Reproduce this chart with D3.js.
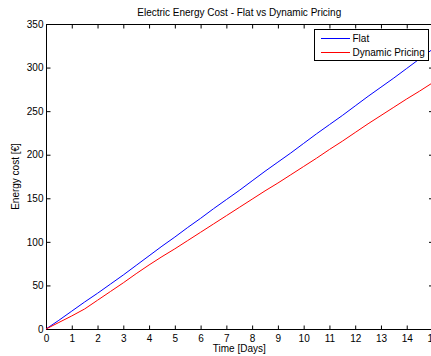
<!DOCTYPE html>
<html>
<head>
<meta charset="utf-8">
<script src="https://cdn.jsdelivr.net/npm/d3@7/dist/d3.min.js"></script>
<style>
html,body{margin:0;padding:0;background:#fff;overflow:hidden;}
svg{display:block;font-family:"Liberation Sans",Arial,sans-serif;}
</style>
</head>
<body>
<svg id="chart" width="431" height="356"></svg>
<script>
const title = "Electric Energy Cost - Flat vs Dynamic Pricing";
const xLabel = "Time [Days]";
const yLabel = "Energy cost [€]";
const seriesNames = ["Flat", "Dynamic Pricing"];
const seriesColors = ["#0000ff", "#ff0000"];
const days = [0,0.5,1,1.5,2,2.5,3,3.5,4,4.5,5,5.5,6,6.5,7,7.5,8,8.5,9,9.5,10,10.5,11,11.5,12,12.5,13,13.5,14,14.5,15];
const flat = [0,10,20.5,31,41,51.5,62,73,84,95,105.5,116.5,127,138,148.5,159,170,181,191.5,202,213,224,234.5,245,256,267,277.5,288,299,310,321];
const dynamic = [0,7.5,15,23,33,43,53,63.5,73.5,83,92,101.5,111,120.5,130,139.5,149,158.5,167.5,177,186.5,196,206,215.5,225.5,235.5,245,254.5,264,273,282.5];
const xTicks = [0,1,2,3,4,5,6,7,8,9,10,11,12,13,14,15];
const yTicks = [0,50,100,150,200,250,300,350];

const svg = d3.select("#chart");
const m = {left:46, top:24, right:432.5, bottom:329};
const x = d3.scaleLinear().domain([0,15]).range([m.left, m.right]);
const y = d3.scaleLinear().domain([0,350]).range([m.bottom, m.top]);

// frame
svg.append("rect").attr("x", m.left+0.5).attr("y", m.top+0.5)
  .attr("width", m.right-m.left).attr("height", m.bottom-m.top)
  .attr("fill","none").attr("stroke","#000").attr("stroke-width",1);

function styleAxis(g){
  g.select(".domain").remove();
  g.selectAll("line").attr("stroke","#000");
  g.selectAll("text").attr("fill","#000").style("font-size","10px").style("font-family","'Liberation Sans',Arial,sans-serif");
}
svg.append("g").attr("transform",`translate(0,${m.bottom+0.5})`)
  .call(d3.axisBottom(x).tickValues(xTicks).tickFormat(d3.format("d")).tickSizeInner(-4).tickSizeOuter(0).tickPadding(5))
  .call(styleAxis);
svg.append("g").attr("transform",`translate(0,${m.top+0.5})`)
  .call(d3.axisTop(x).tickValues(xTicks).tickFormat("").tickSizeInner(-4).tickSizeOuter(0))
  .call(styleAxis);
svg.append("g").attr("transform",`translate(${m.left+0.5},0)`)
  .call(d3.axisLeft(y).tickValues(yTicks).tickFormat(d3.format("d")).tickSizeInner(-4).tickSizeOuter(0).tickPadding(3))
  .call(styleAxis);
svg.append("g").attr("transform",`translate(${m.right+0.5},0)`)
  .call(d3.axisRight(y).tickValues(yTicks).tickFormat("").tickSizeInner(-4).tickSizeOuter(0))
  .call(styleAxis);

const line = d3.line().x(d=>x(d[0])).y(d=>y(d[1]));
[flat, dynamic].forEach((vals,i)=>{
  svg.append("path").datum(days.map((d,j)=>[d, vals[j]]))
    .attr("d", line).attr("fill","none").attr("stroke", seriesColors[i]).attr("stroke-width",1);
});

// title and labels
svg.append("text").attr("x", (m.left+m.right)/2).attr("y", 16).attr("text-anchor","middle")
  .style("font-size","10px").text(title);
svg.append("text").attr("x", (m.left+m.right)/2).attr("y", 352).attr("text-anchor","middle")
  .style("font-size","10px").text(xLabel);
svg.append("text").attr("transform",`translate(19,${(m.top+m.bottom)/2}) rotate(-90)`).attr("text-anchor","middle")
  .style("font-size","10px").text(yLabel);

// legend
const lg = svg.append("g");
lg.append("rect").attr("x",314.5).attr("y",29.5).attr("width",114).attr("height",31)
  .attr("fill","#fff").attr("stroke","#000").attr("stroke-width",1);
seriesNames.forEach((n,i)=>{
  const yy = 38.5 + i*14;
  lg.append("line").attr("x1",321).attr("x2",350).attr("y1",yy).attr("y2",yy)
    .attr("stroke",seriesColors[i]).attr("stroke-width",1);
  lg.append("text").attr("x",352.5).attr("y",yy+3.5).style("font-size","10px").text(n);
});
</script>
</body>
</html>
